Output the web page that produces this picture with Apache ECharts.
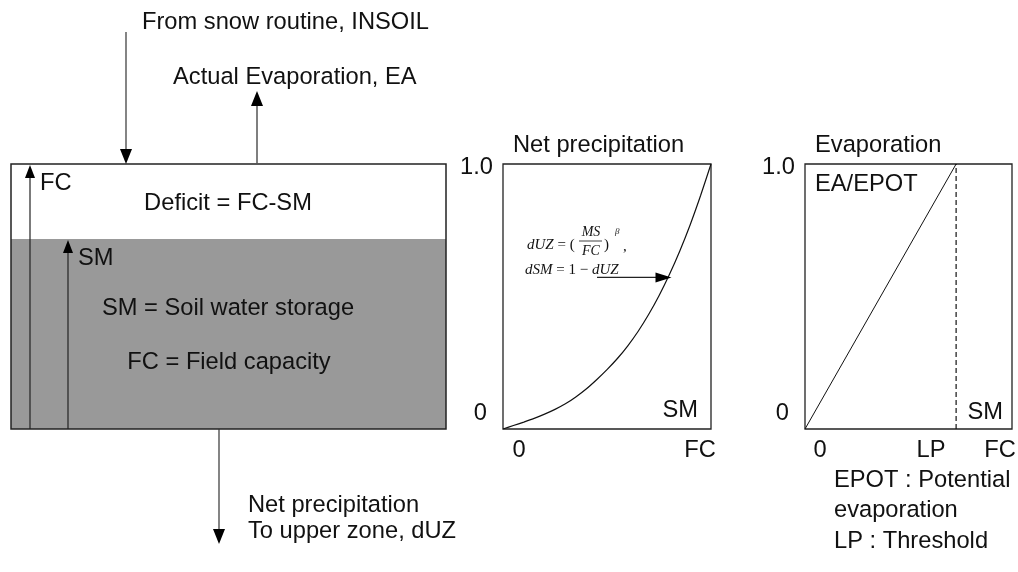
<!DOCTYPE html>
<html>
<head>
<meta charset="utf-8">
<script src="https://cdn.jsdelivr.net/npm/echarts@6/dist/echarts.min.js"></script>
<style>
  html, body { margin: 0; padding: 0; background: #fff; }
  #chart { width: 1018px; height: 572px; }
</style>
</head>
<body>
<div id="chart"></div>
<script>
// Soil moisture routine: storage box, net precipitation response and evaporation reduction

// Net precipitation curve: dUZ as a fraction of input vs SM/FC
const smFraction = [0, 0.05, 0.1, 0.15, 0.2, 0.25, 0.3, 0.35, 0.4, 0.45, 0.5,
                    0.55, 0.6, 0.65, 0.7, 0.75, 0.8, 0.85, 0.9, 0.95, 1.0];
const netPrecip  = [0, 0.013, 0.026, 0.040, 0.056, 0.074, 0.095, 0.121, 0.151, 0.186, 0.224,
                    0.266, 0.314, 0.369, 0.432, 0.503, 0.583, 0.672, 0.771, 0.881, 1.0];

// Evaporation: EA/EPOT rises linearly until SM reaches LP
const lpFraction = 0.73;
const evapSm    = [0, lpFraction];
const evapRatio = [0, 1];

// Axis tick labels
const yTickValues     = [0, 1];
const yTickLabels     = ['0', '1.0'];
const netTickValues   = [0, 1];
const netTickLabels   = ['0', 'FC'];
const evapTickValues  = [0, lpFraction, 1];
const evapTickLabels  = ['0', 'LP', 'FC'];

const SANS = '"Liberation Sans", Arial, sans-serif';
const SERIF = '"Liberation Serif", "Times New Roman", serif';
const FONT = '23.7px ' + SANS;
const INK = '#111';

const chart = echarts.init(document.getElementById('chart'), null, { renderer: 'canvas' });

const hiddenAxis = (gridIndex) => ({
  type: 'value', gridIndex, min: 0, max: 1,
  axisLine: { show: false }, axisTick: { show: false },
  axisLabel: { show: false }, splitLine: { show: false }
});

chart.setOption({
  animation: false,
  backgroundColor: '#fff',
  grid: [
    { left: 503, top: 164, width: 208, height: 265, show: true, borderColor: '#222', borderWidth: 1.3, backgroundColor: 'transparent' },
    { left: 805, top: 164, width: 207, height: 265, show: true, borderColor: '#222', borderWidth: 1.3, backgroundColor: 'transparent' }
  ],
  xAxis: [hiddenAxis(0), hiddenAxis(1)],
  yAxis: [hiddenAxis(0), hiddenAxis(1)],
  series: [
    {
      name: 'Net precipitation', type: 'line', xAxisIndex: 0, yAxisIndex: 0,
      data: smFraction.map((x, i) => [x, netPrecip[i]]),
      smooth: 0.25, showSymbol: false,
      lineStyle: { color: INK, width: 1.2 }
    },
    {
      name: 'EA/EPOT', type: 'line', xAxisIndex: 1, yAxisIndex: 1,
      data: evapSm.map((x, i) => [x, evapRatio[i]]),
      showSymbol: false,
      lineStyle: { color: INK, width: 1 }
    },
    {
      name: 'LP', type: 'line', xAxisIndex: 1, yAxisIndex: 1,
      data: [[lpFraction, 0], [lpFraction, 1]],
      showSymbol: false,
      lineStyle: { color: INK, width: 1.2, type: [5, 3] }
    }
  ]
});

function txt(x, y, text, extra) {
  return {
    type: 'text', x, y, z: 10,
    style: Object.assign({
      text, fill: INK, font: FONT,
      align: 'left', verticalAlign: 'middle',
      textAlign: 'left', textVerticalAlign: 'middle'
    }, extra || {})
  };
}
function line(x1, y1, x2, y2, color, w) {
  return { type: 'line', z: 5, shape: { x1, y1, x2, y2 }, style: { stroke: color || '#222', lineWidth: w || 1.2 } };
}
function head(tx, ty, dir, len, half) {
  // filled triangular arrow head with tip at (tx, ty)
  let pts;
  if (dir === 'up')    pts = [[tx, ty], [tx - half, ty + len], [tx + half, ty + len]];
  if (dir === 'down')  pts = [[tx, ty], [tx - half, ty - len], [tx + half, ty - len]];
  if (dir === 'right') pts = [[tx, ty], [tx - len, ty - half], [tx - len, ty + half]];
  return { type: 'polygon', z: 6, shape: { points: pts }, style: { fill: '#000' } };
}
const right = { align: 'right', textAlign: 'right' };
const center = { align: 'center', textAlign: 'center' };

const g = [];

// storage box
g.push({ type: 'rect', z: 1, shape: { x: 11, y: 239, width: 435, height: 190 }, style: { fill: '#999999' } });
g.push({ type: 'rect', z: 4, shape: { x: 11, y: 164, width: 435, height: 265 }, style: { fill: null, stroke: '#222', lineWidth: 1.5 } });

// FC and SM level arrows
g.push(line(30, 429, 30, 176, '#222', 1.2), head(30, 165, 'up', 13, 5));
g.push(line(68, 429, 68, 251, '#222', 1.2), head(68, 240, 'up', 13, 5));

// inflow, evaporation and outflow arrows
g.push(line(126, 32, 126, 150, '#333', 1.2), head(126, 164, 'down', 15, 6));
g.push(line(257, 164, 257, 104, '#555', 1.5), head(257, 91, 'up', 15, 6));
g.push(line(219, 429, 219, 530, '#333', 1.2), head(219, 544, 'down', 15, 6));

// box text
g.push(txt(142, 22, 'From snow routine, INSOIL'));
g.push(txt(173, 77, 'Actual Evaporation, EA'));
g.push(txt(40, 183, 'FC'));
g.push(txt(228, 203, 'Deficit = FC-SM', center));
g.push(txt(78, 258, 'SM'));
g.push(txt(228, 308, 'SM = Soil water storage', center));
g.push(txt(229, 362, 'FC = Field capacity', center));
g.push(txt(248, 505, 'Net precipitation'));
g.push(txt(248, 531, 'To upper zone, dUZ'));

// panel titles and annotations
g.push(txt(513, 145, 'Net precipitation'));
g.push(txt(815, 145, 'Evaporation'));
g.push(txt(698, 410, 'SM', right));
g.push(txt(1003, 412, 'SM', right));
g.push(txt(815, 184, 'EA/EPOT'));
g.push(txt(834, 480, 'EPOT : Potential'));
g.push(txt(834, 510, 'evaporation'));
g.push(txt(834, 541, 'LP : Threshold'));

// tick labels placed from the axis scales
const px = (gi, v) => chart.convertToPixel({ gridIndex: gi }, v);
[0, 1].forEach(gi => {
  yTickValues.forEach((v, i) => {
    const p = px(gi, [0, v]);
    const dy = v === 1 ? 3 : -16;
    const dx = v === 1 ? -10 : -16;
    g.push(txt(p[0] + dx, p[1] + dy, yTickLabels[i], right));
  });
});
const netOffsets = [16, -11];
netTickValues.forEach((v, i) => {
  const p = px(0, [v, 0]);
  g.push(txt(p[0] + netOffsets[i], p[1] + 21, netTickLabels[i], center));
});
const evapOffsets = [15, -25, -12];
evapTickValues.forEach((v, i) => {
  const p = px(1, [v, 0]);
  g.push(txt(p[0] + evapOffsets[i], p[1] + 21, evapTickLabels[i], center));
});

// formula and pointer arrow inside the net precipitation panel
const rich = {
  i: { font: 'italic 15px ' + SERIF, fill: INK },
  n: { font: '15px ' + SERIF, fill: INK }
};
g.push(txt(527, 245, '{i|dUZ}{n| = (}', { rich }));
g.push(txt(591, 232, 'MS', Object.assign({ font: 'italic 14px ' + SERIF }, center)));
g.push(line(579, 241, 602, 241, '#111', 0.8));
g.push(txt(591, 251, 'FC', Object.assign({ font: 'italic 14px ' + SERIF }, center)));
g.push(txt(604, 245, ')', { font: '15px ' + SERIF }));
g.push(txt(615, 232, 'β', { font: 'italic 9px ' + SERIF }));
g.push(txt(623, 247, ',', { font: '15px ' + SERIF }));
g.push(txt(525, 270, '{i|dSM}{n| = 1 − }{i|dUZ}', { rich }));
const a0 = px(0, [0.452, 0.572]);
const a1 = px(0, [0.81, 0.572]);
g.push(line(a0[0], a0[1], a1[0] - 14, a1[1], '#222', 1.2), head(a1[0], a1[1], 'right', 16, 5));

chart.setOption({ graphic: g });
</script>
</body>
</html>
